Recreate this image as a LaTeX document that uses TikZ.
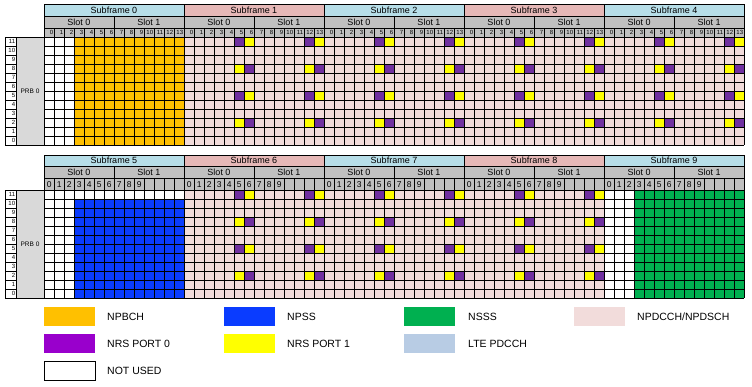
\documentclass[tikz,border=0pt]{standalone}
\usepackage{fontspec}
\setmainfont{Liberation Sans}
\definecolor{npbch}{HTML}{FFC000}
\definecolor{npss}{HTML}{0A3CFF}
\definecolor{nsss}{HTML}{00B050}
\definecolor{npd}{HTML}{F2DCDB}
\definecolor{nrsz}{HTML}{7030A0}
\definecolor{nrszleg}{HTML}{9900CC}
\definecolor{nrso}{HTML}{FFFF00}
\definecolor{ltepd}{HTML}{B8CCE4}
\definecolor{sfa}{HTML}{B7DEE8}
\definecolor{sfb}{HTML}{E6B8B7}
\definecolor{slotc}{HTML}{C0C0C0}
\definecolor{prbc}{HTML}{D9D9D9}
\tikzset{
  gline/.style={line width=0.9pt,black},
  hbox/.style={line width=0.8pt,draw=black},
  sftext/.style={font=\fontsize{9}{9}\selectfont,inner sep=0pt},
  numtop/.style={font=\fontsize{6}{6}\selectfont,inner sep=0pt,anchor=east},
  numbot/.style={font=\fontsize{8.5}{8.5}\selectfont,inner sep=0pt},
  rowlab/.style={font=\fontsize{6}{6}\selectfont,inner sep=0pt,anchor=east},
  prbtext/.style={font=\fontsize{6.5}{6.5}\selectfont,inner sep=0pt},
  legbox/.style={line width=0.6pt},
  legtext/.style={font=\fontsize{10.5}{10.5}\selectfont,inner sep=0pt,anchor=west}
}
\begin{document}
\begin{tikzpicture}[x=1pt,y=-1pt]
\useasboundingbox (0,0) rectangle (752,386);
\fill[white] (0,0) rectangle (752,386);

% ================= TOP SECTION =================
\fill[white] (44,37) rectangle (74,145);
\fill[npbch] (74,37) rectangle (184,145);
\fill[npd] (184,37) rectangle (744,145);
\foreach \sf in {1,...,4}{
  \foreach \o in {0,7}{
    \foreach \r/\a/\b in {0/nrsz/nrso,3/nrso/nrsz,6/nrsz/nrso,9/nrso/nrsz}{
      \fill[\a] ({44+140*\sf+10*(5+\o)},{37+9*\r}) rectangle +(10,9);
      \fill[\b] ({44+140*\sf+10*(6+\o)},{37+9*\r}) rectangle +(10,9);
    }
  }
}
\foreach \i in {0,...,70}{\draw[gline] ({44+10*\i},37) -- ({44+10*\i},145);}
\foreach \j in {0,...,12}{\draw[gline] (44,{37+9*\j}) -- (744,{37+9*\j});}
\foreach \sf in {0,...,4}{
  \pgfmathsetmacro{\col}{mod(\sf,2)==0 ? "sfa" : "sfb"}
  \draw[hbox,fill=\col] ({44+140*\sf},4.5) rectangle +(140,11.5);
  \node[sftext] (sft\sf) at ({114+140*\sf},10.5) {Subframe \sf};
  \foreach \sl in {0,1}{
    \draw[hbox,fill=slotc] ({44+140*\sf+70*\sl},16) rectangle +(70,12);
    \node[sftext] (slt\sf\sl) at ({79+140*\sf+70*\sl},22) {Slot \sl};
  }
  \foreach \k in {0,...,13}{
    \draw[hbox,fill=slotc] ({44+140*\sf+10*\k},28) rectangle +(10,9);
    \node[numtop] (nt\sf-\k) at ({53.3+140*\sf+10*\k},32.8) {\k};
  }
}
\foreach \j in {0,...,11}{
  \pgfmathtruncatemacro{\lab}{11-\j}
  \draw[hbox] (5,{37+9*\j}) rectangle +(11,9);
  \node[rowlab] (rt\j) at (15.3,{41.8+9*\j}) {\lab};
}
\draw[hbox,fill=prbc] (16,37) rectangle (44,145);
\node[prbtext] (prbt) at (30,91) {PRB 0};

% ================= BOTTOM SECTION =================
\fill[white] (44,190) rectangle (744,298);
\fill[npss] (74,199) rectangle (184,298);
\fill[npd] (184,190) rectangle (604,298);
\fill[nsss] (634,190) rectangle (744,298);
\foreach \sf in {1,...,3}{
  \foreach \o in {0,7}{
    \foreach \r/\a/\b in {0/nrsz/nrso,3/nrso/nrsz,6/nrsz/nrso,9/nrso/nrsz}{
      \fill[\a] ({44+140*\sf+10*(5+\o)},{190+9*\r}) rectangle +(10,9);
      \fill[\b] ({44+140*\sf+10*(6+\o)},{190+9*\r}) rectangle +(10,9);
    }
  }
}
\foreach \i in {0,...,70}{\draw[gline] ({44+10*\i},190) -- ({44+10*\i},298);}
\foreach \j in {0,...,12}{\draw[gline] (44,{190+9*\j}) -- (744,{190+9*\j});}
\foreach \sf in {0,...,4}{
  \pgfmathtruncatemacro{\sfn}{\sf+5}
  \pgfmathsetmacro{\col}{mod(\sf,2)==0 ? "sfa" : "sfb"}
  \draw[hbox,fill=\col] ({44+140*\sf},155) rectangle +(140,11);
  \node[sftext] (sfb\sf) at ({114+140*\sf},160.7) {Subframe \sfn};
  \foreach \sl in {0,1}{
    \draw[hbox,fill=slotc] ({44+140*\sf+70*\sl},166) rectangle +(70,12);
    \node[sftext] (slb\sf\sl) at ({79+140*\sf+70*\sl},172) {Slot \sl};
  }
  \foreach \k in {0,...,13}{
    \draw[hbox,fill=slotc] ({44+140*\sf+10*\k},178) rectangle +(10,12);
  }
  \foreach \k in {0,...,9}{
    \node[numbot] (nb\sf-\k) at ({49.3+140*\sf+10*\k},184.2) {\k};
  }
}
\foreach \j in {0,...,11}{
  \pgfmathtruncatemacro{\lab}{11-\j}
  \draw[hbox] (5,{190+9*\j}) rectangle +(11,9);
  \node[rowlab] (rb\j) at (15.3,{194.8+9*\j}) {\lab};
}
\draw[hbox,fill=prbc] (16,190) rectangle (44,298);
\node[prbtext] (prbb) at (30,244) {PRB 0};

% ================= LEGEND =================
\fill[npbch] (44,307) rectangle (95,326);
\node[legtext] (l1) at (107,316.5) {NPBCH};
\fill[npss] (224,307) rectangle (275,326);
\node[legtext] (l2) at (287,316.5) {NPSS};
\fill[nsss] (404,307) rectangle (455,326);
\node[legtext] (l3) at (468,316.5) {NSSS};
\fill[npd] (574,307) rectangle (625,326);
\node[legtext] (l4) at (637,316.5) {NPDCCH/NPDSCH};
\fill[nrszleg] (44,334) rectangle (95,353);
\node[legtext] (l5) at (107,343.5) {NRS PORT 0};
\fill[nrso] (224,334) rectangle (275,353);
\node[legtext] (l6) at (287,343.5) {NRS PORT 1};
\fill[ltepd] (404,334) rectangle (455,353);
\node[legtext] (l7) at (468,343.5) {LTE PDCCH};
\draw[legbox,fill=white] (44,361) rectangle (95,380);
\node[legtext] (l8) at (107,370.5) {NOT USED};
\end{tikzpicture}
\end{document}
